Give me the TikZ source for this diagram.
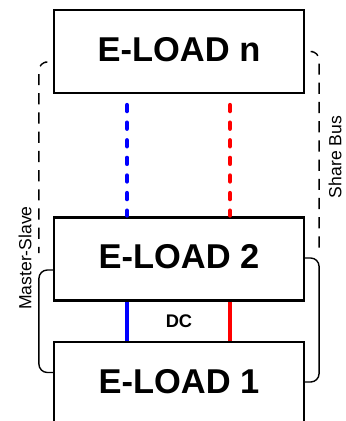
\documentclass[tikz,border=0pt]{standalone}
\usepackage{fontspec}
\setmainfont{Liberation Sans}
\usetikzlibrary{calc}
\definecolor{ink}{HTML}{000000}
\definecolor{busblue}{HTML}{0000FF}
\definecolor{busred}{HTML}{FF0000}

\begin{document}
\begin{tikzpicture}[x=0.025cm,y=-0.025cm,text=ink,
  load/.style={draw=ink,line width=1.5pt,fill=white,minimum width=6.25cm,minimum height=2.075cm,inner sep=0pt,text height=0.617cm,text depth=0.125cm,font=\fontsize{24.5}{28}\selectfont\bfseries},
  dcline/.style={line width=0.1cm},
  dotline/.style={line width=0.11cm,line cap=round,dash pattern=on 0.15cm off 0.29cm},
  link/.style={draw=ink,line width=1pt,rounded corners=6},
  sharelink/.style={link,dash pattern=on 0.28cm off 0.2cm},
  tag/.style={rotate=90,font=\fontsize{12.5}{14}\selectfont}]
  \useasboundingbox (0,0) rectangle (346,421);
  \clip (0,0) rectangle (346,421);
  \node[load] (loadn) at (179,51.5) {E-LOAD n};
  \node[load] (load2) at (179,259) {E-LOAD 2};
  \node[load] (load1) at (179,383.5) {E-LOAD 1};
  % dc bus, dotted where units are left out
  \draw[dotline,busblue] ($(loadn.south)+(-52,11)$) -- ($(load2.north)+(-52,-1)$);
  \draw[dotline,busred] ($(loadn.south)+(51,11)$) -- ($(load2.north)+(51,-1)$);
  \draw[dcline,busblue] ($(load2.south)+(-52,0)$) -- ($(load1.north)+(-52,0)$);
  \draw[dcline,busred] ($(load2.south)+(51,0)$) -- ($(load1.north)+(51,0)$);
  \node[font=\fontsize{13}{15}\selectfont\bfseries] (dc) at ($(load2.south)!0.5!(load1.north)$) {DC};
  % control links
  \draw[sharelink] ($(loadn.west)+(-8,10.5)$) -| ($(load2.west)+(-14,-6)$);
  \draw[sharelink] ($(loadn.east)+(8,0)$) -| ($(load2.east)+(14,-9)$);
  \draw[link] ($(load2.west)+(0,11)$) -| ($(load1.west)+(-14,-11)$) -- ($(load1.west)+(0,-11)$);
  \draw[link] ($(load2.east)+(0,-1)$) -| ($(load1.east)+(14,-1.5)$) -- ($(load1.east)+(0,-1.5)$);
  \node[tag] (ms) at (25,258) {Master-Slave};
  \node[tag] (sb) at (335,157) {Share Bus};
\end{tikzpicture}
\end{document}
